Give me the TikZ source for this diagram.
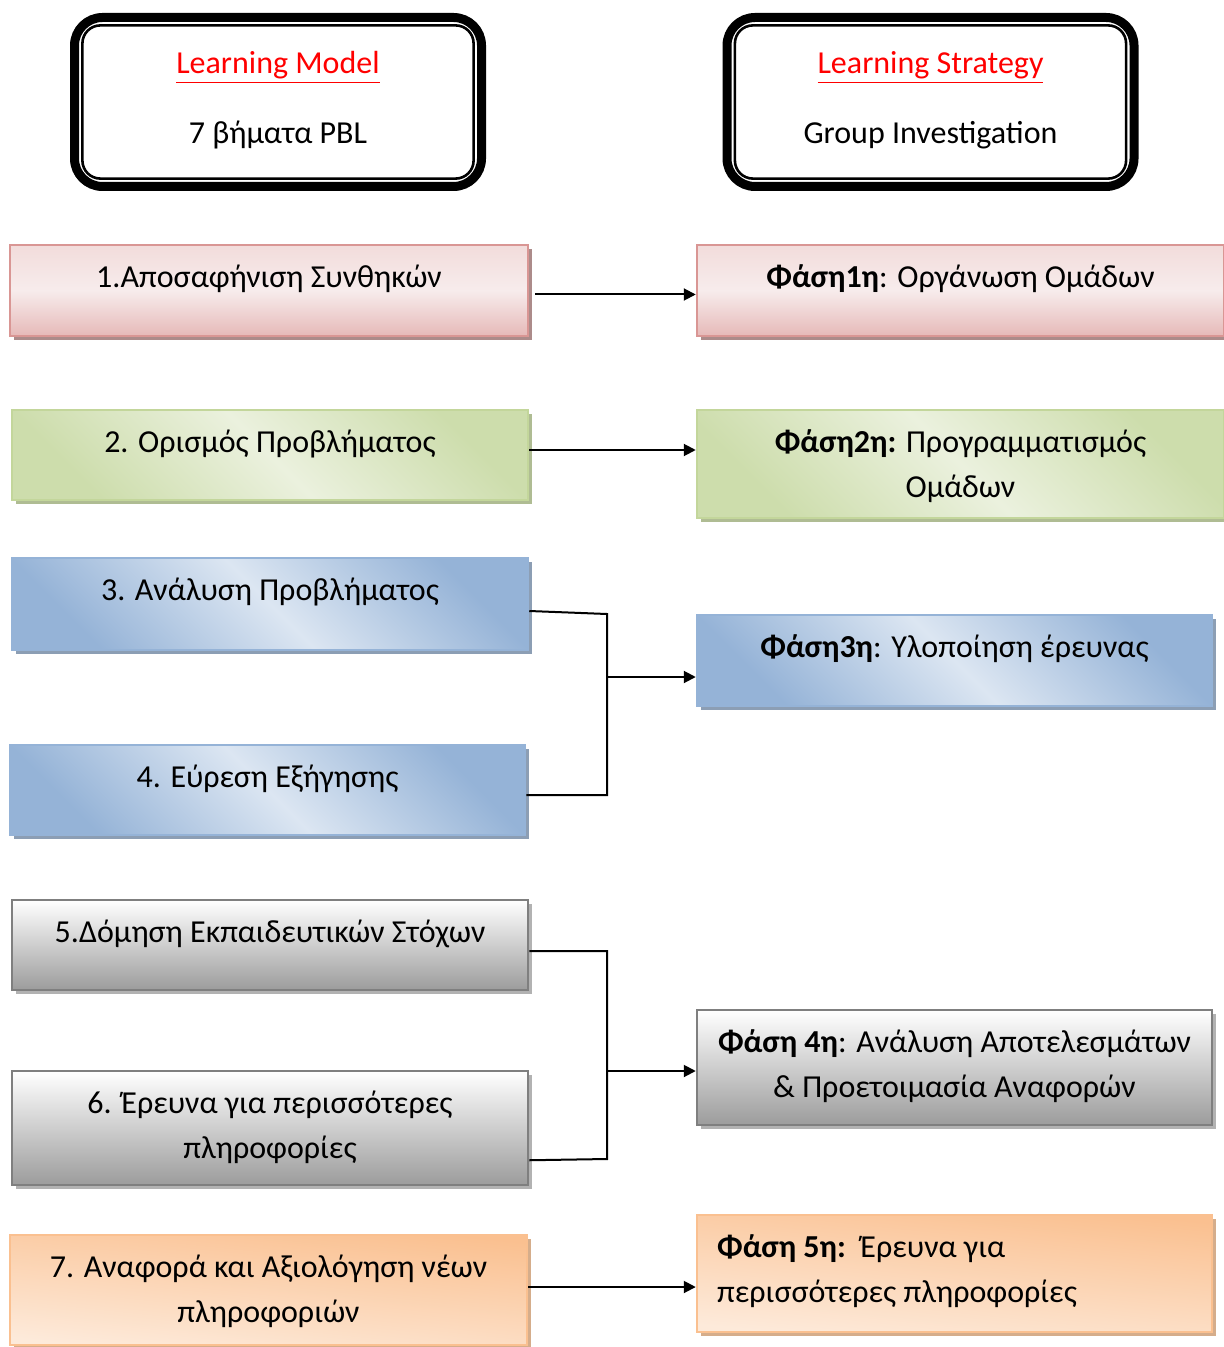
\documentclass[tikz,border=0pt]{standalone}
\usepackage{fontspec}
\setmainfont{Carlito}
\usepackage{tikz}
\usetikzlibrary{arrows.meta,shadows}
\definecolor{pbred}{RGB}{255,0,0}
\definecolor{pinkB}{HTML}{D99694}
\definecolor{pinkT}{HTML}{F2DCDB}
\definecolor{pinkM}{HTML}{F7ECEC}
\definecolor{pinkD}{HTML}{E6B9B8}
\definecolor{greenB}{HTML}{C3D69B}
\definecolor{greenC}{HTML}{CDDDAC}
\definecolor{greenL}{HTML}{EBF1DE}
\definecolor{blueB}{HTML}{95B3D7}
\definecolor{blueL}{HTML}{DCE6F2}
\definecolor{grayB}{HTML}{7F7F7F}
\definecolor{grayD}{HTML}{9C9C9C}
\definecolor{orangeB}{HTML}{FAC090}
\definecolor{orangeL}{HTML}{FDEADA}
\tikzset{
  txt/.style={font=\fontsize{16}{22.5}\selectfont, align=center, inner sep=0pt},
  headbox/.style={draw, line width=4.5pt, rounded corners=14pt, minimum width=203.5pt,
                  minimum height=84.5pt, inner sep=0pt},
  innerline/.style={line width=1.3pt, rounded corners=9pt},
  stepbox/.style={draw, line width=1.25pt, inner sep=0pt},
  steptext/.style={txt, anchor=base, yshift=-22pt},
  steptextii/.style={txt, anchor=base, yshift=-44.5pt},
  pinkbox/.style={stepbox, draw=pinkB, top color=pinkT, bottom color=pinkD, middle color=pinkM,
                  drop shadow={fill=pinkD!75!black, opacity=1, shadow xshift=2pt, shadow yshift=-2pt}},
  greenbox/.style={stepbox, draw=greenB, top color=greenC, bottom color=greenC, middle color=greenL,
                   shading angle=-45,
                   drop shadow={fill=greenB!70!gray, opacity=1, shadow xshift=2pt, shadow yshift=-2pt}},
  bluebox/.style={stepbox, draw=blueB, top color=blueB, bottom color=blueB, middle color=blueL,
                  shading angle=-45,
                  drop shadow={fill=blueB!60!gray, opacity=1, shadow xshift=2pt, shadow yshift=-2pt}},
  graybox/.style={stepbox, draw=grayB, top color=white, bottom color=grayD,
                  drop shadow={fill=gray!60, opacity=1, shadow xshift=2pt, shadow yshift=-2pt}},
  orangebox/.style={stepbox, draw=orangeB, top color=orangeB, bottom color=orangeL,
                    shading angle=-6,
                    drop shadow={fill=orangeB!70!gray, opacity=1, shadow xshift=2pt, shadow yshift=-2pt}},
  link/.style={line width=1pt, black},
  arr/.style={link, -{Triangle[length=6pt,width=6pt]}}
}

\begin{document}
\begin{tikzpicture}[x=0.5pt, y=-0.5pt]
  \useasboundingbox (0,0) rectangle (1224,1347);
  % top boxes
  \node[headbox] (lm) at (278,102) {};
  \draw[innerline] ([shift={(6.2pt,-6.2pt)}]lm.north west) rectangle ([shift={(-6.2pt,6.2pt)}]lm.south east);
  \node[txt, anchor=base] (lmt) at (278,144) {\textcolor{pbred}{\underline{Learning Model}}\\[12.5pt]7 βήματα PBL};
  \node[headbox] (ls) at (930.5,102) {};
  \draw[innerline] ([shift={(6.2pt,-6.2pt)}]ls.north west) rectangle ([shift={(-6.2pt,6.2pt)}]ls.south east);
  \node[txt, anchor=base] (lst) at (930.5,144) {\textcolor{pbred}{\underline{Learning Strategy}}\\[12.5pt]Group Investigation};

  % PBL steps
  \node[pinkbox, minimum width=259pt, minimum height=45.5pt] (s1) at (269,290.5) {};
  \node[steptext] (s1t) at (s1.north) {1.Αποσαφήνιση Συνθηκών};
  \node[greenbox, minimum width=258pt, minimum height=45pt] (s2) at (270,455) {};
  \node[steptext] (s2t) at (s2.north) {2. Ορισμός Προβλήματος};
  \node[bluebox, minimum width=258pt, minimum height=46pt] (s3) at (270,604) {};
  \node[steptext] (s3t) at (s3.north) {3. Ανάλυση Προβλήματος};
  \node[bluebox, minimum width=257.5pt, minimum height=45pt] (s4) at (267.5,790) {};
  \node[steptext] (s4t) at (s4.north) {4. Εύρεση Εξήγησης};
  \node[graybox, minimum width=258pt, minimum height=45pt] (s5) at (270,945) {};
  \node[steptext] (s5t) at (s5.north) {5.Δόμηση Εκπαιδευτικών Στόχων};
  \node[graybox, minimum width=258pt, minimum height=57pt] (s6) at (270,1128) {};
  \node[steptextii] (s6t) at (s6.north) {6. Έρευνα για περισσότερες\\πληροφορίες};
  \node[orangebox, minimum width=258.5pt, minimum height=55pt] (s7) at (268.5,1290) {};
  \node[steptextii] (s7t) at (s7.north) {7. Αναφορά και Αξιολόγηση νέων\\πληροφοριών};

  % phases
  \node[pinkbox, minimum width=263.5pt, minimum height=45.5pt] (f1) at (960.5,290.5) {};
  \node[steptext] (f1t) at (f1.north) {\textbf{Φάση1η}: Οργάνωση Ομάδων};
  \node[greenbox, minimum width=263.5pt, minimum height=54pt] (f2) at (960.5,464) {};
  \node[steptextii] (f2t) at (f2.north) {\textbf{Φάση2η:} Προγραμματισμός\\Ομάδων};
  \node[bluebox, minimum width=257.5pt, minimum height=45.5pt] (f3) at (954.5,660.5) {};
  \node[steptext] (f3t) at (f3.north) {\textbf{Φάση3η}: Υλοποίηση έρευνας};
  \node[graybox, minimum width=257.5pt, minimum height=57.5pt] (f4) at (954.5,1067.5) {};
  \node[steptextii] (f4t) at (f4.north) {\textbf{Φάση 4η}: Ανάλυση Αποτελεσμάτων\\\& Προετοιμασία Αναφορών};
  \node[orangebox, minimum width=257.5pt, minimum height=58.5pt] (f5) at (954.5,1273.5) {};
  \node[steptextii, anchor=base west, align=left, xshift=10.5pt] (f5t) at (f5.north west) {\textbf{Φάση 5η:}\ \ Έρευνα για\\περισσότερες πληροφορίες};

  % connectors
  \coordinate (j1) at (607,677);
  \coordinate (j2) at (607,1071);
  \draw[arr] ([xshift=3pt,yshift=-2pt]s1.east) -- ([yshift=-2pt]f1.west);
  \draw[arr] ([yshift=2.5pt]s2.east) -- (f2.west |- 0,450);
  \draw[link] ([yshift=-3.5pt]s3.east) -- (j1 |- 0,614) -- (j1 |- 0,795) -- ([yshift=-2.5pt]s4.east);
  \draw[arr] (j1) -- (f3.west |- j1);
  \draw[link] ([yshift=-3pt]s5.east) -- (j2 |- 0,951) -- (j2 |- 0,1159) -- ([yshift=13pt]s6.south east);
  \draw[arr] (j2) -- (f4.west |- j2);
  \draw[arr] ([yshift=1.5pt]s7.east) -- (f5.west |- 0,1287);
\end{tikzpicture}
\end{document}
